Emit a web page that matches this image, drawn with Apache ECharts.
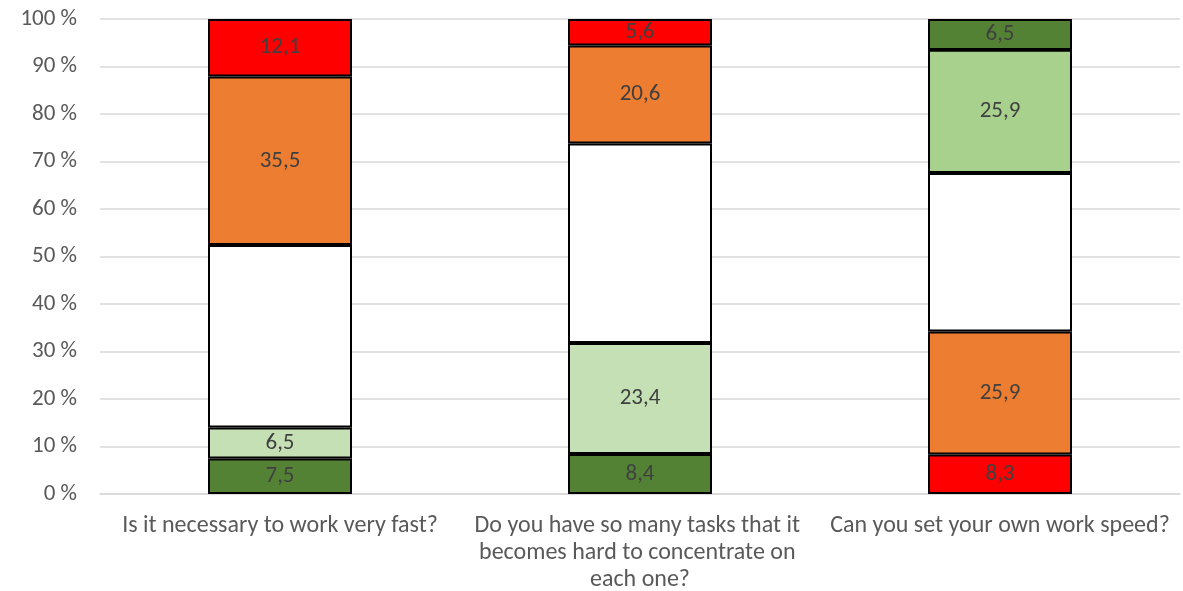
<!DOCTYPE html>
<html>
<head>
<meta charset="utf-8">
<script src="https://cdn.jsdelivr.net/npm/echarts@6/dist/echarts.min.js"></script>
<style>html,body{margin:0;padding:0;background:#fff}#c{width:1183px;height:591px}</style>
</head>
<body>
<div id="c"></div>
<script>
const categories = [
  "Is it necessary to work very fast?",
  "Do you have so many tasks that it becomes hard to concentrate on each one?",
  "Can you set your own work speed?"
];
// segments from bottom to top, per category
const seg1 = [7.5, 8.4, 8.3];
const seg2 = [6.5, 23.4, 25.9];
const seg3 = [38.4, 42.0, 33.4];
const seg4 = [35.5, 20.6, 25.9];
const seg5 = [12.1, 5.6, 6.5];
const showLabel = [true, true, false, true, true];

const DG = '#548235', LG = '#C5E0B4', LG2 = '#A9D18E', W = '#FFFFFF', OR = '#ED7D31', RD = '#FF0000';
const segColors = [
  [DG, DG, RD],
  [LG, LG, OR],
  [W, W, W],
  [OR, OR, LG2],
  [RD, RD, DG]
];
const segs = [seg1, seg2, seg3, seg4, seg5];
const font = 'Carlito, "Liberation Sans Narrow", "Liberation Sans", sans-serif';

const series = segs.map((arr, si) => ({
  type: 'bar',
  stack: 'total',
  barWidth: '40%',
  data: arr.map((v, ci) => ({
    value: v,
    itemStyle: { color: segColors[si][ci], borderColor: '#000', borderWidth: 2 }
  })),
  label: {
    show: showLabel[si],
    position: 'inside',
    color: '#404040',
    fontSize: 23,
    fontFamily: font,
    formatter: p => String(p.value).replace('.', ',')
  }
}));

const chart = echarts.init(document.getElementById('c'));
chart.setOption({
  animation: false,
  grid: { left: 100, right: 3, top: 19, bottom: 97, outerBoundsMode: 'none', containLabel: false },
  xAxis: {
    type: 'category',
    data: categories,
    axisLine: { lineStyle: { color: '#D9D9D9', width: 1.5 } },
    axisTick: { show: false },
    axisLabel: {
      interval: 0,
      color: '#595959',
      fontSize: 24,
      fontFamily: font,
      lineHeight: 27,
      margin: 18,
      width: 358,
      overflow: 'break'
    }
  },
  yAxis: {
    type: 'value',
    min: 0,
    max: 100,
    interval: 10,
    axisLine: { show: false },
    axisTick: { show: false },
    splitLine: { lineStyle: { color: '#D9D9D9', width: 1.5 } },
    axisLabel: {
      color: '#595959',
      fontSize: 23,
      fontFamily: font,
      margin: 23,
      formatter: v => v + ' %'
    }
  },
  series: series
});
</script>
</body>
</html>
